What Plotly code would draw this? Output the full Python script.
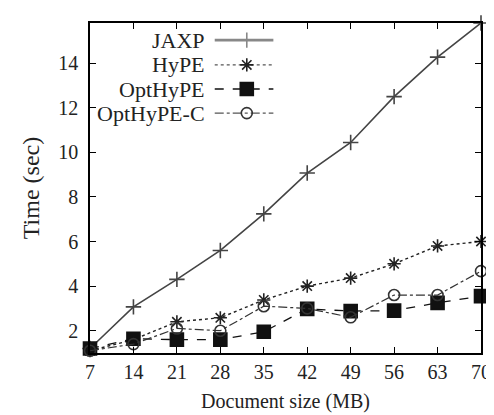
import plotly.graph_objects as go

sizes = [7, 14, 21, 28, 35, 42, 49, 56, 63, 70]
jaxp = [1.2, 3.07, 4.3, 5.6, 7.24, 9.07, 10.44, 12.5, 14.27, 15.8]
hype = [1.1, 1.6, 2.4, 2.58, 3.38, 4.0, 4.36, 5.0, 5.8, 6.0]
opthype = [1.2, 1.64, 1.6, 1.6, 1.95, 2.98, 2.88, 2.9, 3.25, 3.55]
opthype_c = [1.1, 1.4, 2.1, 2.0, 3.1, 3.0, 2.6, 3.6, 3.6, 4.67]
series_names = ["JAXP", "HyPE", "OptHyPE", "OptHyPE-C"]
x_ticks = sizes
y_ticks = [2, 4, 6, 8, 10, 12, 14]

FONT = "Liberation Serif"
styles = [
    dict(color="#444444", dash="solid", symbol="cross-thin-open", size=11, width=1.6),
    dict(color="#222222", dash="dot", symbol="asterisk-open", size=11, width=1.4),
    dict(color="#111111", dash="dash", symbol="square", size=13, width=1.3),
    dict(color="#333333", dash="dashdot", symbol="circle-open", size=11, width=1.2),
]
data = [jaxp, hype, opthype, opthype_c]

fig = go.Figure()
for name, ys, st in zip(series_names, data, styles):
    fig.add_trace(go.Scatter(
        x=sizes, y=ys, name=name, mode="lines+markers",
        line=dict(color=st["color"], dash=st["dash"], width=st["width"]),
        marker=dict(symbol=st["symbol"], size=st["size"], color=st["color"],
                    line=dict(color=st["color"], width=1.6)),
        showlegend=False, cliponaxis=False,
    ))

# custom legend (text on the left, sample on the right) on an overlay axis
leg_y = [0.948, 0.873, 0.800, 0.727]
legend_line_colors = ["#888888", "#555555", "#111111", "#555555"]
for name, st, ly, lc in zip(series_names, styles, leg_y, legend_line_colors):
    mc = st["color"] if name != "JAXP" else "#888888"
    fig.add_trace(go.Scatter(
        x=[0.319, 0.469], y=[ly, ly], mode="lines", xaxis="x2", yaxis="y2",
        line=dict(color=lc, dash=st["dash"], width=st["width"] + (1.2 if name == "JAXP" else 0)),
        showlegend=False, hoverinfo="skip",
    ))
    fig.add_trace(go.Scatter(
        x=[0.401], y=[ly], mode="markers", xaxis="x2", yaxis="y2",
        marker=dict(symbol=st["symbol"], size=st["size"], color=mc,
                    line=dict(color=mc, width=1.6)),
        showlegend=False, hoverinfo="skip",
    ))
    fig.add_annotation(x=0.299, y=ly, xref="x2", yref="y2", text=name,
                       showarrow=False, xanchor="right", yanchor="middle",
                       font=dict(family=FONT, size=22, color="#222222"))

axis_common = dict(showline=True, linecolor="black", linewidth=1.6, mirror="ticks",
                   ticks="inside", ticklen=6, tickcolor="black", showgrid=False,
                   zeroline=False,
                   tickfont=dict(family=FONT, size=20, color="#222222"))

fig.update_layout(
    width=494, height=415,
    margin=dict(l=82, r=11, t=15, b=70),
    paper_bgcolor="white", plot_bgcolor="white",
    xaxis=dict(range=[7, 70], tickvals=x_ticks,
               title=dict(text="Document size (MB)", standoff=12,
                          font=dict(family=FONT, size=20, color="#222222")),
               **axis_common),
    yaxis=dict(range=[1, 15.8], tickvals=y_ticks, ticklabelstandoff=6,
               title=dict(text="Time (sec)", standoff=12,
                          font=dict(family=FONT, size=24, color="#222222")),
               **axis_common),
    xaxis2=dict(overlaying="x", range=[0, 1], visible=False, fixedrange=True),
    yaxis2=dict(overlaying="y", range=[0, 1], visible=False, fixedrange=True),
)

fig.write_html("out.html")
